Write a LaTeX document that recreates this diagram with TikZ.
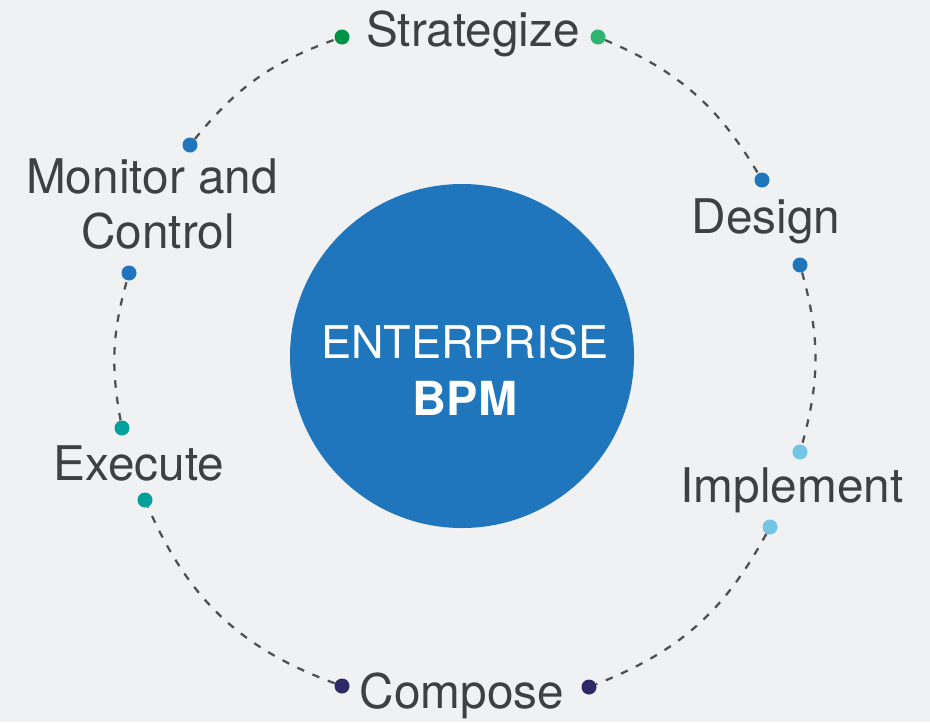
\documentclass[tikz,border=0pt]{standalone}
\usepackage{fontspec}
\setmainfont{TeX Gyre Heros}
\begin{document}
\begin{tikzpicture}[x=0.75pt,y=-0.75pt,
  dot/.style={circle,inner sep=0pt,minimum size=11.25pt,draw=none},
  conn/.style={draw=linegray,line width=1.7pt,dash pattern=on 5.6pt off 6.8pt},
  lbl/.style={text=textgray,font=\fontsize{35.8}{41}\selectfont,inner sep=0pt,anchor=base}]
\definecolor{bg}{HTML}{F0F1F3}
\definecolor{linegray}{HTML}{505050}
\definecolor{textgray}{HTML}{404040}
\definecolor{bpmblue}{HTML}{1F76BC}
\definecolor{dgreen}{HTML}{009245}
\definecolor{lgreen}{HTML}{2DB470}
\definecolor{dotblue}{HTML}{1F76BC}
\definecolor{lblue}{HTML}{72C5E4}
\definecolor{navy}{HTML}{2B2966}
\definecolor{teal}{HTML}{00A19A}
\fill[bg] (0,0) rectangle (930,722);
\useasboundingbox (0,0) rectangle (930,722);
% center circle
\node[circle,fill=bpmblue,minimum size=258pt,inner sep=0pt] (core) at (462,356) {};
\node[text=white,font=\fontsize{33.8}{40}\selectfont,inner sep=0pt,anchor=base] (ent) at (465,358) {ENTERPRISE};
\node[text=white,font=\fontsize{35.2}{40}\selectfont\bfseries,inner sep=0pt,anchor=base] (bpm) at (465,415) {BPM};
% dots
\node[dot,fill=dgreen] (s1) at (342,37) {};
\node[dot,fill=lgreen] (s2) at (598,37) {};
\node[dot,fill=dotblue] (d1) at (762,180) {};
\node[dot,fill=dotblue] (d2) at (800,265) {};
\node[dot,fill=lblue] (i1) at (800,452) {};
\node[dot,fill=lblue] (i2) at (770,527) {};
\node[dot,fill=navy] (c1) at (589,687) {};
\node[dot,fill=navy] (c2) at (342,686) {};
\node[dot,fill=teal] (e1) at (145,500) {};
\node[dot,fill=teal] (e2) at (122,428) {};
\node[dot,fill=dotblue] (m1) at (129,273) {};
\node[dot,fill=dotblue] (m2) at (190,145) {};
% connectors
\draw[conn] (s2) to[bend left=18] (d1);
\draw[conn] (d2) to[bend left=15.5] (i1);
\draw[conn] (i2) to[bend left=20] (c1);
\draw[conn] (c2) to[bend left=23] (e1);
\draw[conn] (e2) to[bend left=13] (m1);
\draw[conn] (m2) to[bend left=15.5] (s1);
% labels
\node[lbl] (strat) at (473,46) {Strategize};
\node[lbl] (design) at (766,233) {Design};
\node[lbl] (impl) at (792,502) {Implement};
\node[lbl] (comp) at (462,708) {Compose};
\node[lbl] (exec) at (139,480) {Execute};
\node[lbl] (mon1) at (152,193) {Monitor and};
\node[lbl] (mon2) at (158,248) {Control};
\end{tikzpicture}
\end{document}
